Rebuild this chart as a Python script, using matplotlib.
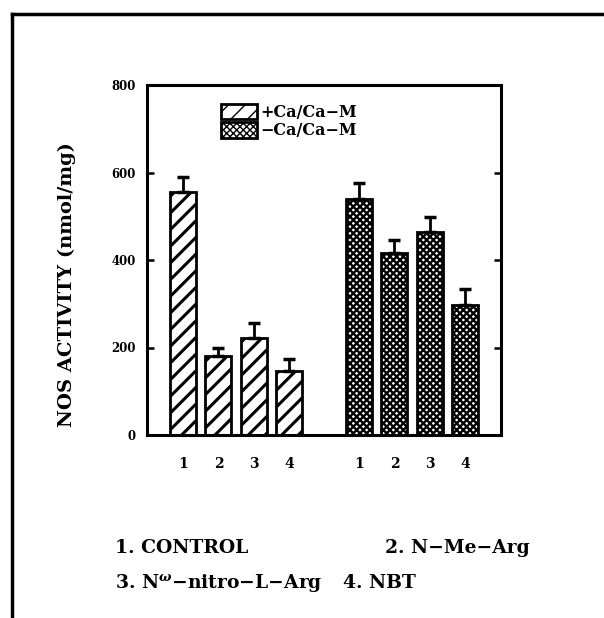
import numpy as np
import matplotlib
matplotlib.use('Agg')
import matplotlib.pyplot as plt
from matplotlib.patches import Patch
from matplotlib.lines import Line2D

# NOS activity per treatment, with and without Ca/CaM
treatments = ['1', '2', '3', '4']
plus_ca = [555, 180, 222, 147]
plus_ca_err = [35, 18, 35, 26]
minus_ca = [540, 415, 463, 298]
minus_ca_err = [35, 30, 35, 36]
y_ticks = [0, 200, 400, 600, 800]
key_lines = [('1. CONTROL', '2. N\u2212Me\u2212Arg'),
             ('3. N$^{\\omega}$\u2212nitro\u2212L\u2212Arg', '4. NBT')]

plt.rcParams['font.family'] = 'DejaVu Serif'
plt.rcParams['font.weight'] = 'bold'
plt.rcParams['mathtext.fontset'] = 'dejavuserif'

fig = plt.figure(figsize=(6.04, 6.18), dpi=100)
ax = fig.add_axes([147 / 604, 1 - 435 / 618, 354 / 604, 350 / 618])

x1 = np.arange(1, 5)
x2 = np.arange(6, 10)
width = 0.74

with plt.rc_context({'hatch.linewidth': 2.2}):
    ax.bar(x1, plus_ca, width, color='white', edgecolor='black', linewidth=2, hatch='//')
    h1 = Patch(facecolor='white', edgecolor='black', linewidth=2, hatch='//')
with plt.rc_context({'hatch.linewidth': 1.7}):
    ax.bar(x2, minus_ca, width, color='white', edgecolor='black', linewidth=2, hatch='xxxxx')
    h2 = Patch(facecolor='white', edgecolor='black', linewidth=2, hatch='xxxxx')

ax.errorbar(x1, plus_ca, yerr=[np.zeros(4), plus_ca_err], fmt='none', ecolor='black',
            elinewidth=2, capsize=4, capthick=2.5)
ax.errorbar(x2, minus_ca, yerr=[np.zeros(4), minus_ca_err], fmt='none', ecolor='black',
            elinewidth=2, capsize=4, capthick=2.5)

ax.set_xlim(-0.03, 10.03)
ax.set_ylim(0, 800)
ax.set_yticks(y_ticks)
ax.set_yticklabels([str(v) for v in y_ticks], fontsize=8.5, fontweight='heavy')
ax.set_xticks(list(x1) + list(x2))
ax.set_xticklabels(treatments + treatments, fontsize=10, fontweight='heavy')
ax.tick_params(axis='x', length=0, pad=16)
ax.tick_params(axis='y', direction='in', length=5, width=1.8, right=True, pad=8)
for s in ax.spines.values():
    s.set_linewidth(2.2)

ax.set_ylabel('NOS ACTIVITY (nmol/mg)', fontsize=14, fontweight='bold')
ax.yaxis.set_label_coords(-0.2, 0.43)

ax.legend([h1, h2], ['+Ca/Ca\u2212M', '\u2212Ca/Ca\u2212M'], loc='upper left',
          bbox_to_anchor=(0.19, 0.965), frameon=False, handlelength=2.3, handleheight=1.15,
          handletextpad=0.2, labelspacing=0.05, borderaxespad=0,
          prop={'size': 11.5, 'weight': 'bold'})

# treatment key below the chart
for i, (left, right) in enumerate(key_lines):
    y = 1 - (548 + 35 * i) / 618
    fig.text(115 / 604, y, left, fontsize=13.5, fontweight='bold', va='center')
    fig.text((385 if i == 0 else 343) / 604, y, right, fontsize=13.5, fontweight='bold', va='center')

# outer frame (top and left edges)
fig.add_artist(Line2D([12 / 604, 12 / 604], [0, 1 - 14 / 618], transform=fig.transFigure,
                      color='black', linewidth=2.5))
fig.add_artist(Line2D([12 / 604, 1], [1 - 14 / 618, 1 - 14 / 618], transform=fig.transFigure,
                      color='black', linewidth=2.5))

fig.savefig('out.png', dpi=100)
